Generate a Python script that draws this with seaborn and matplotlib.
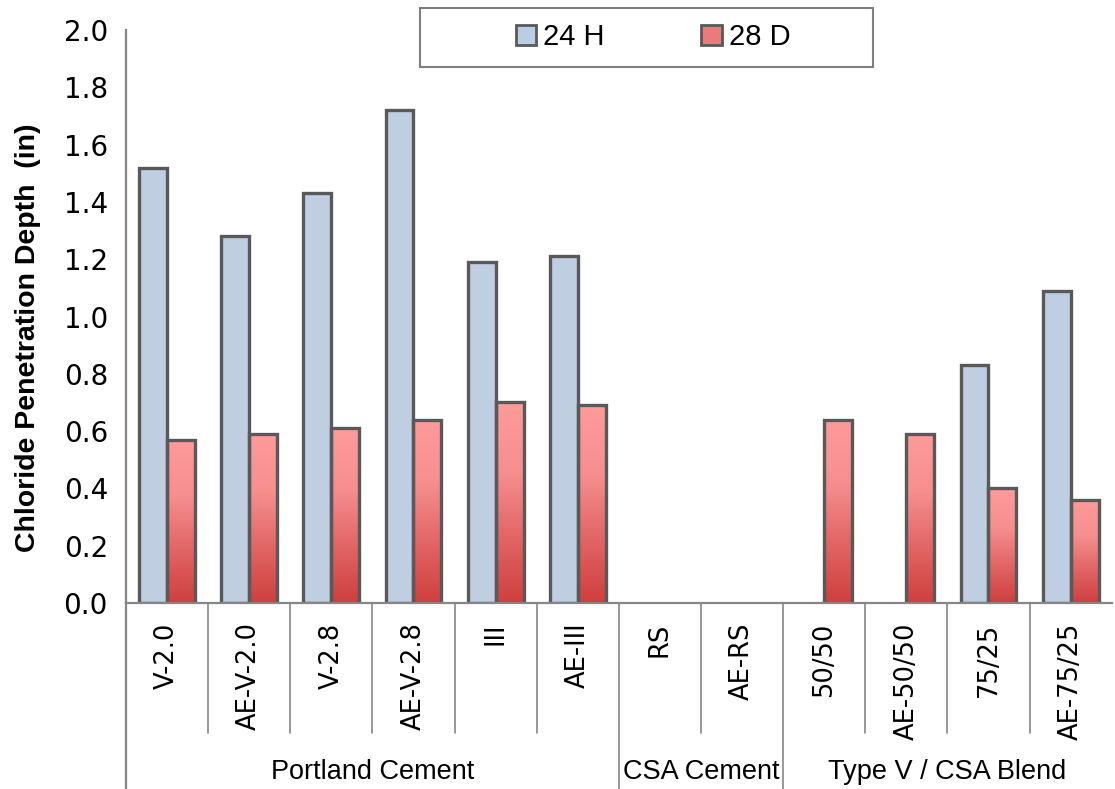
import numpy as np
import pandas as pd
import seaborn as sns
import matplotlib.pyplot as plt
from matplotlib.colors import LinearSegmentedColormap
from matplotlib.patches import Patch, Rectangle

# data
mixes = ["V-2.0", "AE-V-2.0", "V-2.8", "AE-V-2.8", "III", "AE-III",
         "RS", "AE-RS", "50/50", "AE-50/50", "75/25", "AE-75/25"]
group_names = ["Portland Cement", "CSA Cement", "Type V / CSA Blend"]
group_sizes = [6, 2, 4]
depth_24h = [1.52, 1.28, 1.43, 1.72, 1.19, 1.21, np.nan, np.nan, np.nan, np.nan, 0.83, 1.09]
depth_28d = [0.57, 0.59, 0.61, 0.64, 0.70, 0.69, np.nan, np.nan, 0.64, 0.59, 0.40, 0.36]
ages = ["24 H", "28 D"]
yticks = [0.0, 0.2, 0.4, 0.6, 0.8, 1.0, 1.2, 1.4, 1.6, 1.8, 2.0]

df = pd.DataFrame({
    "mix": mixes * 2,
    "age": [ages[0]] * len(mixes) + [ages[1]] * len(mixes),
    "depth": depth_24h + depth_28d,
})

sns.set_style("white")
plt.rcParams["font.family"] = ["DejaVu Sans"]
plt.rcParams["text.color"] = "black"
plt.rcParams["axes.labelcolor"] = "black"
plt.rcParams["xtick.labelcolor"] = "black"
plt.rcParams["ytick.labelcolor"] = "black"
narrow = ["Liberation Sans", "DejaVu Sans"]

blue = "#b9cde5"
edge = "#595959"
axis_grey = "#868686"

fig = plt.figure(figsize=(11.15, 7.89), dpi=100)
ax = fig.add_axes([0.113, 0.2357, 0.884, 0.7263])

sns.barplot(data=df, x="mix", y="depth", hue="age", order=mixes, hue_order=ages,
            palette={ages[0]: blue, ages[1]: "#e87878"}, width=0.68,
            errorbar=None, edgecolor=edge, linewidth=2.4, ax=ax, legend=False)

# red bars get a top-to-bottom gradient like the original
red_cmap = LinearSegmentedColormap.from_list(
    "red_grad", [(0.0, "#d03f3f"), (0.3, "#e06262"), (0.65, "#f68e8e"), (1.0, "#ff9b9b")])
grad = np.linspace(0, 1, 256).reshape(-1, 1)
for bar in ax.containers[1]:
    x0, y0 = bar.get_x(), bar.get_y()
    w, h = bar.get_width(), bar.get_height()
    if not np.isfinite(h) or h == 0:
        continue
    im = ax.imshow(grad, cmap=red_cmap, origin="lower", aspect="auto",
                   extent=[x0, x0 + w, y0, y0 + h], zorder=bar.get_zorder() - 0.1)
    im.set_clip_path(bar)
    bar.set_facecolor("none")

ax.set_xlim(-0.5, len(mixes) - 0.5)
ax.set_ylim(0, 2.0)
ax.set_yticks(yticks)
ax.set_yticklabels([f"{t:.1f}" for t in yticks], fontsize=20)
ax.set_ylabel("Chloride Penetration Depth  (in)", fontsize=20.5, fontweight="bold",
              family=narrow)
ax.yaxis.set_label_coords(-0.086, 0.4625)
ax.set_xlabel("")

ax.tick_params(axis="y", direction="out", length=7, width=1.2, color=axis_grey, pad=6)
ax.tick_params(axis="x", length=0, pad=14)
ax.set_xticks(range(len(mixes)))
ax.set_xticklabels(mixes, rotation=90, fontsize=18.5, va="top", ha="center")

sns.despine(ax=ax, top=True, right=True)
for s in ["left", "bottom"]:
    ax.spines[s].set_color(axis_grey)
    ax.spines[s].set_linewidth(1.6)

# category separators below the axis
trans = ax.get_xaxis_transform()
bounds = np.cumsum(group_sizes)[:-1] - 0.5
for i in range(1, len(mixes)):
    xb = i - 0.5
    low = -0.325 if xb in bounds else -0.227
    ax.plot([xb, xb], [0, low], transform=trans, color=axis_grey, lw=1.2, clip_on=False)
ax.plot([-0.5, -0.5], [0, -0.325], transform=trans, color=axis_grey, lw=1.6, clip_on=False)

# group names
start = 0
for name, n in zip(group_names, group_sizes):
    ax.text(start + (n - 1) / 2, -0.295, name, transform=trans, ha="center", va="center",
            fontsize=19.5, family=narrow)
    start += n

# legend with a wide frame like the original
handles = [Patch(facecolor=blue, edgecolor=edge, linewidth=2),
           Patch(facecolor="#ec7a7a", edgecolor=edge, linewidth=2)]
leg = fig.legend(handles, ages, loc="center", bbox_to_anchor=(0.5857, 0.9525), ncol=2,
                 frameon=False, columnspacing=3.3,
                 handlelength=0.7, handleheight=0.7, handletextpad=0.25,
                 borderaxespad=0, prop={"family": narrow, "size": 21})
for t in leg.get_texts():
    t.set_color("black")
fig.patches.append(Rectangle((420 / 1115, 1 - 67 / 789), 453 / 1115, 59 / 789,
                             transform=fig.transFigure, fill=False,
                             edgecolor="#7f7f7f", linewidth=1.5))

plt.savefig("out.png", dpi=100)
